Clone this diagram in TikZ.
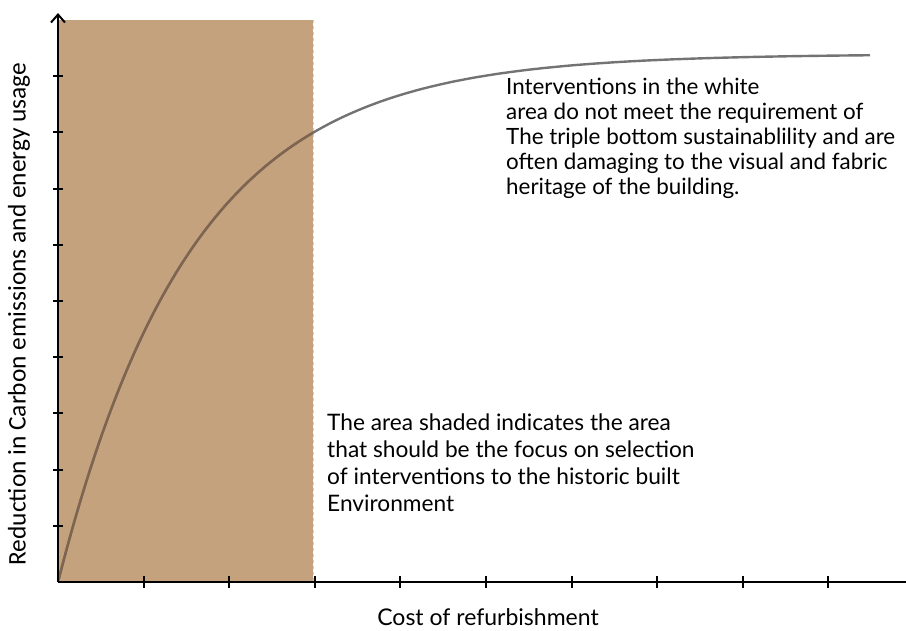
\documentclass[tikz,border=0pt]{standalone}
\usepackage{fontspec}
\setmainfont{Lato}
\newfontfamily\ylabelfont{Carlito}
\usetikzlibrary{arrows.meta}
\definecolor{shadetan}{RGB}{196,162,126}
\definecolor{curvegray}{RGB}{115,115,115}
\definecolor{curvebrown}{RGB}{128,100,78}
\tikzset{
  axis/.style={line width=2pt, black},
  tick/.style={line width=2pt, black},
  curve/.style={line width=2.4pt},
  note/.style={align=left, inner sep=0pt, anchor=north west},
}

\begin{document}
\begin{tikzpicture}[x=1pt, y=-1pt]
\useasboundingbox (0,0) rectangle (906,630);
\coordinate (origin) at (58,582);
\coordinate (ytop) at (58,13);
\coordinate (xend) at (906,582);
\coordinate (shadetop) at (313,20);
% Draw shaded area
\fill[shadetan] (origin) rectangle (shadetop);
\draw[shadetan!55, dashed, line width=1pt] (shadetop) -- (313,582);
% Draw curve, darker where it crosses the shaded area
\draw[curve, curvegray] plot[domain=0:812, samples=150] ({58+\x},{582-528*(1-exp(-\x/134))});
\begin{scope}
\clip (origin) rectangle (shadetop);
\draw[curve, curvebrown] plot[domain=0:260, samples=80] ({58+\x},{582-528*(1-exp(-\x/134))});
\end{scope}
% Draw axes
\draw[axis, -{Straight Barb[length=8pt, width=14pt, line width=2pt]}] (origin) -- (ytop);
\draw[axis] (origin) -- (xend);
% Draw ticks
\foreach \i in {1,...,9} {
  \draw[tick] (58+\i*85.6,576) -- (58+\i*85.6,588);
  \draw[tick] (53,582-\i*56.2) -- (63,582-\i*56.2);
}
% Labels
\node[rotate=90, font=\ylabelfont\fontsize{25.4}{28}\selectfont] (ylabel) at (19,314) {Reduction in Carbon emissions and energy usage};
\node[font=\fontsize{23}{26}\selectfont, inner sep=0pt] (xlabel) at (488,617) {Cost of refurbishment};
\node[note, font=\fontsize{22.4}{25}\selectfont] (whitenote) at (506,78) {Interventions in the white\\area do not meet the requirement of\\The triple bottom sustainablility and are\\often damaging to the visual and fabric\\heritage of the building.};
\node[note, font=\fontsize{22.7}{26.7}\selectfont] (shadednote) at (327,414) {The area shaded indicates the area\\that should be the focus on selection\\of interventions to the historic built\\Environment};
\end{tikzpicture}
\end{document}
